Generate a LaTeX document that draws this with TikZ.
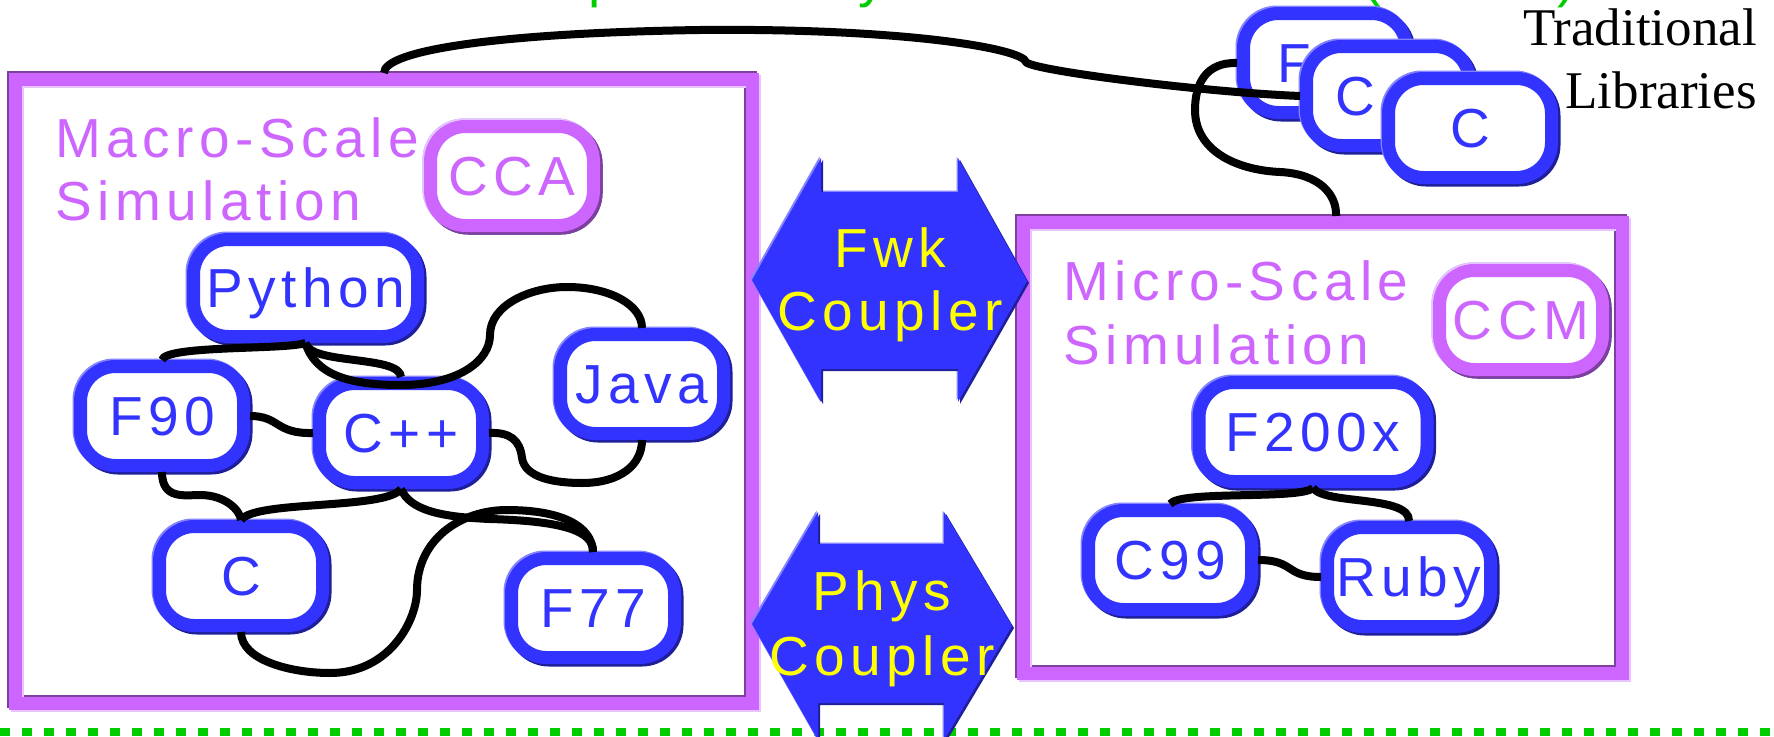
\documentclass[tikz,border=0pt]{standalone}
\usepackage{fontspec}
\setmainfont{Liberation Sans}[LetterSpace=10]
\newfontfamily\seriffont{Liberation Serif}
\definecolor{nblue}{HTML}{3333FF}
\definecolor{nbluedark}{HTML}{1F1F99}
\definecolor{nbluelight}{HTML}{8484FF}
\definecolor{purp}{HTML}{CC66FF}
\definecolor{purpdark}{HTML}{7F3F9F}
\definecolor{purplight}{HTML}{E8C4FF}
\definecolor{grn}{HTML}{00CC00}
\definecolor{yel}{HTML}{FFFF00}
\tikzset{
  bigfont/.style={font=\fontsize{55}{60}\selectfont},
  lang/.style={rectangle, rounded corners=35, draw=nblue, line width=13, fill=white,
    text=nblue, inner sep=0, minimum width=163, minimum height=99,
    text height=39, text depth=0, bigfont,
    preaction={draw=nbluelight, line width=13, transform canvas={shift={(-1.5pt,1.5pt)}}},
    preaction={draw=nbluedark, line width=13, transform canvas={shift={(2.5pt,-2.5pt)}}}},
  comp/.style={lang, draw=purp, text=purp,
    preaction={draw=purplight, line width=13, transform canvas={shift={(-1.5pt,1.5pt)}}},
    preaction={draw=purpdark, line width=13, transform canvas={shift={(2.5pt,-2.5pt)}}}},
  simframe/.style={rectangle, draw=purp, line width=13, inner sep=0,
    preaction={draw=purpdark, line width=13, transform canvas={shift={(-2pt,2pt)}}},
    preaction={draw=purplight, line width=13, transform canvas={shift={(2pt,-2pt)}}}},
  simtitle/.style={text=purp, inner sep=0, bigfont},
  cpltext/.style={text=yel, inner sep=0, bigfont},
  coupler/.style={fill=nblue,
    preaction={fill=nbluelight, transform canvas={shift={(-1.5pt,1.5pt)}}},
    preaction={fill=nbluedark, transform canvas={shift={(2pt,-2pt)}}}},
  wire/.style={draw=black, line width=8},
  libtext/.style={text=black, inner sep=0, font={\seriffont\fontsize{53}{60}\selectfont}},
  gtext/.style={text=grn, inner sep=0, bigfont},
}
\begin{document}
\begin{tikzpicture}[x=1pt,y=-1pt]
\useasboundingbox (0,0) rectangle (1774,736);
\clip (0,0) rectangle (1774,736);

% green partial text at the top edge
\node[gtext, anchor=base west] (g1) at (588,-3) {p};
\node[gtext, anchor=base west] (g2) at (858,-3) {y};
\node[gtext, anchor=base west] (g3) at (1363,-3) {(};
\node[gtext, anchor=base west] (g4) at (1557,-3) {)};

% green dashed line
\draw[grn, line width=8, dash pattern=on 10pt off 12pt] (0,732) -- (1774,732);

% frames
\node[simframe, minimum width=737, minimum height=624] (macro) at (384,391.5) {};
\node[simframe, minimum width=599, minimum height=451] (micro) at (1323,448) {};
\coordinate (microtop) at (1336,216);

% titles
\node[simtitle, anchor=base west] (macrot1) at (55,157) {Macro-Scale};
\node[simtitle, anchor=base west] (macrot2) at (55,220) {Simulation};
\node[simtitle, anchor=base west] (microt1) at (1063,300) {Micro-Scale};
\node[simtitle, anchor=base west] (microt2) at (1063,364) {Simulation};

% component nodes
\node[comp] (cca) at (512,176) {CCA};
\node[comp] (ccm) at (1521,320) {CCM};

% language nodes (macro)
\node[lang, minimum width=224, minimum height=97] (py) at (305.5,288) {Python};
\node[lang] (f90) at (162,416) {F90};
\node[lang] (cpp) at (401,433) {C++};
\node[lang] (java) at (642,384) {Java};
\node[lang] (c) at (241,576) {C};
\node[lang] (f77) at (593,608) {F77};

% language nodes (micro)
\node[lang, minimum width=228] (f200x) at (1313,432) {F200x};
\node[lang] (c99) at (1170,560) {C99};
\node[lang] (ruby) at (1409,577) {Ruby};

% traditional libraries
\node[lang] (libf) at (1325,63) {\makebox[96pt][l]{F}};
\node[lang] (libc1) at (1388,96) {\makebox[106pt][l]{C}};
\node[lang] (libc2) at (1470,128) {C};
\node[libtext, anchor=base east] (trad1) at (1757,45) {Traditional};
\node[libtext, anchor=base east] (trad2) at (1757,108) {Libraries};

% connectors
\draw[wire] (py.south) .. controls (285,350) and (165,345) .. (f90.north);
\draw[wire] (py.south) .. controls (310,365) and (400,355) .. (cpp.north);
\draw[wire] (py.south) .. controls (315,375) and (350,385) .. (400,385)
   .. controls (460,385) and (490,360) .. (490,335)
   .. controls (490,305) and (530,287) .. (567,287)
   .. controls (610,287) and (642,305) .. (java.north);
\draw[wire] (f90.east) .. controls (280,416) and (275,434) .. (cpp.west);
\draw[wire] (cpp.east) .. controls (510,432) and (520,440) .. (522,458)
   .. controls (525,478) and (555,483) .. (582,483)
   .. controls (620,483) and (642,465) .. (java.south);
\draw[wire] (f90.south) .. controls (162,500) and (185,495) .. (200,495)
   .. controls (225,495) and (240,510) .. (c.north);
\draw[wire] (cpp.south) .. controls (385,510) and (255,500) .. (c.north);
\draw[wire] (cpp.south) .. controls (410,510) and (440,517) .. (490,519)
   .. controls (560,521) and (594,530) .. (f77.north);
\draw[wire] (c.south) .. controls (241,660) and (290,673) .. (330,673)
   .. controls (390,673) and (417,620) .. (417,590)
   .. controls (417,540) and (460,510) .. (507,510)
   .. controls (560,510) and (592,525) .. (f77.north);
\draw[wire] (f200x.south) .. controls (1300,500) and (1180,490) .. (c99.north);
\draw[wire] (f200x.south) .. controls (1325,505) and (1410,495) .. (ruby.north);
\draw[wire] (c99.east) .. controls (1295,560) and (1285,577) .. (ruby.west);
\draw[wire] (macro.north) .. controls (384,50) and (500,33) .. (700,30)
   .. controls (900,28) and (1022,48) .. (1026,62)
   .. controls (1030,70) and (1200,92) .. (libc1.west);
\draw[wire] (libf.west) .. controls (1205,62) and (1195,85) .. (1195,110)
   .. controls (1195,150) and (1235,170) .. (1280,172)
   .. controls (1320,174) and (1337,195) .. (microtop);

% couplers
\path[coupler] (752,280) -- (821,158) -- (821,192) -- (958,192) -- (958,158) -- (1027,281)
   -- (958,402) -- (958,369) -- (821,369) -- (821,402) -- cycle;
\path[coupler] (752,624) -- (818,512) -- (818,544) -- (944,544) -- (944,512) -- (1012,626)
   -- (944,740) -- (944,703) -- (818,703) -- (818,740) -- cycle;
\node[cpltext, anchor=base] (fwk1) at (890,267) {Fwk};
\node[cpltext, anchor=base] (fwk2) at (890,330) {Coupler};
\node[cpltext, anchor=base] (phys1) at (882,610) {Phys};
\node[cpltext, anchor=base] (phys2) at (882,675) {Coupler};
\end{tikzpicture}
\end{document}
